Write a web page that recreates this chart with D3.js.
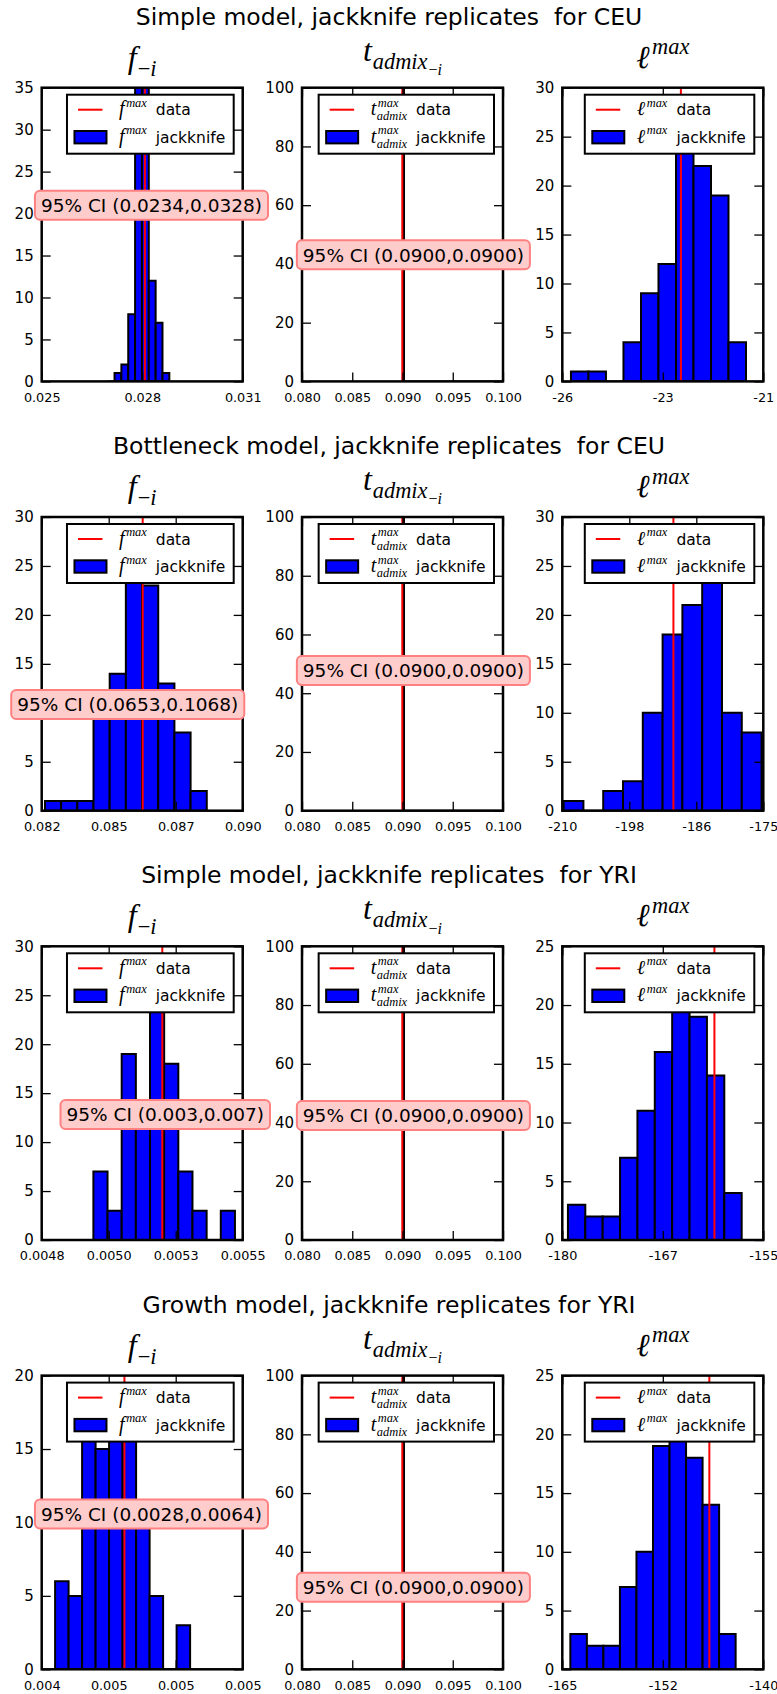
<!DOCTYPE html>
<html><head><meta charset="utf-8">
<script src="https://cdn.jsdelivr.net/npm/d3@7"></script>
<style>
body{margin:0;background:#fff;}
svg{display:block;}
text{font-family:"DejaVu Sans",sans-serif;fill:#000;}
.math{font-family:"Liberation Serif","DejaVu Serif",serif;font-style:italic;}
</style></head><body>
<svg id="chart" width="777" height="1694"></svg>
<script>
// ---------------- DATA ----------------
const suptitles = [
  "Simple model, jackknife replicates  for CEU",
  "Bottleneck model, jackknife replicates  for CEU",
  "Simple model, jackknife replicates  for YRI",
  "Growth model, jackknife replicates for YRI"
];

// f_{-i} panels (one per row)
const fXDomains = [[0.025, 0.031], [0.082, 0.090], [0.0048, 0.0055], [0.0042, 0.0054]];
const fXTickLabels = [
  ["0.025", "0.028", "0.031"],
  ["0.082", "0.085", "0.087", "0.090"],
  ["0.0048", "0.0050", "0.0053", "0.0055"],
  ["0.004", "0.005", "0.005", "0.005"]
];
const fYMax = [35, 30, 30, 20];
const fBinLo = [0.02697, 0.08213, 0.00498, 0.00428];
const fBinHi = [0.02881, 0.08857, 0.005473, 0.005086];
const fCounts = [
  [0, 1, 2, 8, 36, 35, 12, 7, 1],
  [1, 1, 1, 11, 14, 26, 23, 13, 8, 2],
  [7, 3, 19, 13, 27, 18, 7, 3, 0, 3],
  [6, 5, 18, 15, 19, 18, 11, 5, 0, 3]
];
const fData = [0.02808, 0.08602, 0.005220, 0.004694];
const fCI = ["95% CI (0.0234,0.0328)", "95% CI (0.0653,0.1068)", "95% CI (0.003,0.007)", "95% CI (0.0028,0.0064)"];
const fCIy = [21.0, 10.85, 12.83, 10.58];

// t_admix panels
const tXDomain = [0.080, 0.100];
const tXTickLabels = ["0.080", "0.085", "0.090", "0.095", "0.100"];
const tYMax = 100;
const tBinEdges = [0.09005, 0.09015, 0.1005];
const tCounts = [100, 0];
const tData = 0.08998;
const tCI = "95% CI (0.0900,0.0900)";
const tCIy = [43.1, 47.7, 42.4, 27.9];

// l^max panels
const lXDomains = [[-26, -21], [-210, -175], [-180, -155], [-165, -140]];
const lXTickLabels = [
  ["-26", "-23", "-21"],
  ["-210", "-198", "-186", "-175"],
  ["-180", "-167", "-155"],
  ["-165", "-152", "-140"]
];
const lYMax = [30, 30, 25, 25];
const lBinLo = [-25.785, -209.77, -179.3, -164.0];
const lBinHi = [-21.43, -175.3, -157.69, -143.44];
const lCounts = [
  [1, 1, 0, 4, 9, 12, 28, 22, 19, 4],
  [1, 0, 2, 3, 10, 18, 21, 27, 10, 8],
  [3, 2, 2, 7, 11, 16, 22, 19, 14, 4],
  [3, 2, 2, 7, 10, 19, 22, 18, 14, 3]
];
const lData = [-23.05, -190.65, -161.08, -146.71];

// ---------------- LAYOUT ----------------
const axLeft0 = 41.7, colStep = 260.3, axW = 201;
const axTop0 = 87.7, rowStep = 429.3, axH = 293.7;
const ciRightFrac = { f: [1.096, 0.978, 1.106, 1.096], t: 1.104 };

const svg = d3.select('#chart');

function drawMath(parent, spec, fs, scriptScale) {
  const ss = scriptScale || 0.68;
  const g = parent.append('g');
  const b = g.append('text').attr('class', 'math').attr('x', 0).attr('y', 0)
    .style('font-size', fs + 'px').text(spec.base);
  const w = b.node().getComputedTextLength() + fs * 0.08;
  let end = w;
  if (spec.sup) {
    const t = g.append('text').attr('class', 'math').attr('x', w).attr('y', -fs * 0.42)
      .style('font-size', (fs * ss) + 'px').text(spec.sup);
    end = Math.max(end, w + t.node().getComputedTextLength());
  }
  if (spec.sub) {
    const sx = w - fs * 0.05;
    const t = g.append('text').attr('class', 'math').attr('x', sx).attr('y', fs * 0.25)
      .style('font-size', (fs * ss) + 'px');
    spec.sub.forEach(p => t.append('tspan').style('font-style', p.up ? 'normal' : 'italic').text(p.s));
    let e = sx + t.node().getComputedTextLength();
    if (spec.subsub) {
      const t2 = g.append('text').attr('class', 'math').attr('x', e + 1).attr('y', fs * 0.25 + fs * 0.2)
        .style('font-size', (fs * 0.5) + 'px');
      spec.subsub.forEach(p => t2.append('tspan').style('font-style', p.up ? 'normal' : 'italic').text(p.s));
      e += 1 + t2.node().getComputedTextLength();
    }
    end = Math.max(end, e);
  }
  return { g, width: end };
}

function drawLegend(x1, y0, spec) {
  const g = svg.append('g');
  const rect = g.append('rect');
  g.append('line').attr('x1', 11).attr('x2', 35.5).attr('y1', 15).attr('y2', 15)
    .attr('stroke', '#ff0000').attr('stroke-width', 2);
  g.append('rect').attr('x', 7.5).attr('y', 42.5 - 6.2).attr('width', 32).attr('height', 12.4)
    .attr('fill', '#0000ff').attr('stroke', '#000').attr('stroke-width', 2);
  const labels = ['data', 'jackknife'];
  let maxEnd = 0;
  [15, 42.5].forEach((cy, i) => {
    const m = drawMath(g, spec, 20, 0.62);
    const mx = 52;
    m.g.attr('transform', `translate(${mx},${cy + 5.5})`);
    const tx = mx + m.width + 9;
    const t = g.append('text').attr('x', tx).attr('y', cy + 5.5).style('font-size', '15.5px').text(labels[i]);
    maxEnd = Math.max(maxEnd, tx + t.node().getComputedTextLength());
  });
  const w = maxEnd + 8.5;
  rect.attr('x', 0).attr('y', 0).attr('width', w).attr('height', 59)
    .attr('fill', '#fff').attr('stroke', '#000').attr('stroke-width', 2);
  g.attr('transform', `translate(${x1 - 9 - w},${y0 + 7})`);
}

function drawCI(xRight, yCenter, label) {
  const g = svg.append('g');
  const t = g.append('text').attr('x', xRight).attr('y', yCenter + 6.7)
    .attr('text-anchor', 'end').style('font-size', '18.5px').text(label);
  const bb = t.node().getBBox();
  g.insert('rect', 'text').attr('x', bb.x - 6).attr('y', yCenter - 14.5)
    .attr('width', bb.width + 12).attr('height', 29).attr('rx', 5)
    .attr('fill', '#ffcccc').attr('stroke', '#ff8080').attr('stroke-width', 2);
}

function drawPanel(r, c, cfg) {
  const x0 = axLeft0 + c * colStep, y0 = axTop0 + r * rowStep;
  const x = d3.scaleLinear().domain(cfg.xDomain).range([x0, x0 + axW]);
  const y = d3.scaleLinear().domain([0, cfg.yMax]).range([y0 + axH, y0]);
  const clipId = `clip${r}_${c}`;
  svg.append('clipPath').attr('id', clipId).append('rect')
    .attr('x', x0).attr('y', y0).attr('width', axW).attr('height', axH);
  const plot = svg.append('g').attr('clip-path', `url(#${clipId})`);
  const edges = cfg.edges || d3.range(cfg.counts.length + 1)
    .map(i => cfg.binLo + i * (cfg.binHi - cfg.binLo) / cfg.counts.length);
  plot.selectAll('path.bar').data(cfg.counts).join('path').attr('class', 'bar')
    .attr('d', (d, i) => {
      const xa = x(edges[i]), xb = x(edges[i + 1]), yb = y(0), yt = y(d);
      return `M${xa},${yb}V${yt}H${xb}V${yb}Z`;
    })
    .attr('fill', '#0000ff').attr('stroke', '#000').attr('stroke-width', 2);
  plot.append('line').attr('x1', x(cfg.red)).attr('x2', x(cfg.red))
    .attr('y1', y0).attr('y2', y0 + axH).attr('stroke', '#ff0000').attr('stroke-width', 2);

  const nT = cfg.xTickLabels.length;
  const xt = d3.range(nT).map(i => cfg.xDomain[0] + i * (cfg.xDomain[1] - cfg.xDomain[0]) / (nT - 1));
  const yt = d3.range(0, cfg.yMax + 1e-9, cfg.yStep);

  const style = (g) => {
    g.attr('font-size', null).attr('font-family', null);
    g.select('.domain').remove();
    g.selectAll('.tick line').attr('stroke', '#000').attr('stroke-width', 1.3);
  };
  svg.append('g').attr('transform', `translate(0,${y0 + axH})`)
    .call(d3.axisBottom(x).tickValues(xt).tickFormat((d, i) => cfg.xTickLabels[i])
      .tickSizeInner(-9).tickSizeOuter(0).tickPadding(11.4))
    .call(style).call(g => g.selectAll('text').style('font-size', '12.8px'));
  svg.append('g').attr('transform', `translate(0,${y0})`)
    .call(d3.axisTop(x).tickValues(xt).tickFormat('').tickSizeInner(-9).tickSizeOuter(0))
    .call(style);
  svg.append('g').attr('transform', `translate(${x0},0)`)
    .call(d3.axisLeft(y).tickValues(yt).tickFormat(d3.format('d'))
      .tickSizeInner(-9).tickSizeOuter(0).tickPadding(8))
    .call(style).call(g => g.selectAll('text').style('font-size', '15px'));
  svg.append('g').attr('transform', `translate(${x0 + axW},0)`)
    .call(d3.axisRight(y).tickValues(yt).tickFormat('').tickSizeInner(-9).tickSizeOuter(0))
    .call(style);

  svg.append('rect').attr('x', x0).attr('y', y0).attr('width', axW).attr('height', axH)
    .attr('fill', 'none').attr('stroke', '#000').attr('stroke-width', 2.5);

  // title
  const tm = drawMath(svg, cfg.title, 32, 0.7);
  tm.g.attr('transform', `translate(${x0 + axW / 2 - tm.width / 2},${y0 - cfg.titleOff})`);

  drawLegend(x0 + axW, y0, cfg.legend);
  if (cfg.ci) drawCI(x0 + cfg.ciFrac * axW, y(cfg.ciY), cfg.ci);
}

const fTitle = { base: 'f', sub: [{ s: '\u2212', up: true }, { s: 'i' }] };
const tTitle = { base: 't', sub: [{ s: 'admix' }], subsub: [{ s: '\u2212', up: true }, { s: 'i' }] };
const lTitle = { base: '\u2113', sup: 'max' };

for (let r = 0; r < suptitles.length; r++) {
  const top = axTop0 + r * rowStep;
  svg.append('text').attr('x', 389).attr('y', top - 63).attr('text-anchor', 'middle')
    .style('font-size', '23.5px').style('white-space', 'pre').text(suptitles[r]);

  drawPanel(r, 0, {
    xDomain: fXDomains[r], xTickLabels: fXTickLabels[r], yMax: fYMax[r], yStep: 5,
    binLo: fBinLo[r], binHi: fBinHi[r], counts: fCounts[r], red: fData[r],
    title: fTitle, titleOff: 20, legend: { base: 'f', sup: 'max' },
    ci: fCI[r], ciY: fCIy[r], ciFrac: ciRightFrac.f[r]
  });
  drawPanel(r, 1, {
    xDomain: tXDomain, xTickLabels: tXTickLabels, yMax: tYMax, yStep: 20,
    edges: tBinEdges, counts: tCounts, red: tData,
    title: tTitle, titleOff: 27, legend: { base: 't', sup: 'max', sub: [{ s: 'admix' }] },
    ci: tCI, ciY: tCIy[r], ciFrac: ciRightFrac.t
  });
  drawPanel(r, 2, {
    xDomain: lXDomains[r], xTickLabels: lXTickLabels[r], yMax: lYMax[r], yStep: 5,
    binLo: lBinLo[r], binHi: lBinHi[r], counts: lCounts[r], red: lData[r],
    title: lTitle, titleOff: 20, legend: { base: '\u2113', sup: 'max' },
    ci: null
  });
}
</script>
</body></html>
